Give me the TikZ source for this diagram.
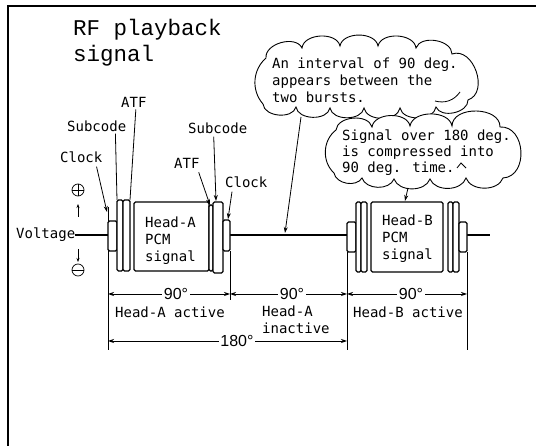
\documentclass[tikz,border=0pt]{standalone}
\usepackage{fontspec}
\setmainfont{DejaVu Sans Mono}
\newfontfamily\ttlfont{Liberation Mono}
\newfontfamily\degfont{Liberation Sans}
\usetikzlibrary{arrows.meta}
\tikzset{
  lab/.style={font=\fontsize{14}{17}\selectfont, inner sep=0pt},
  ttl/.style={font=\ttlfont\fontsize{22.5}{27}\selectfont, inner sep=0pt, anchor=base west},
  deg/.style={font=\degfont\fontsize{16}{18}\selectfont, inner sep=1.5pt, fill=white},
  pulse/.style={line width=1.1pt, rounded corners=1.5pt, fill=white},
  sig/.style={line width=1.1pt},
  lead/.style={line width=0.8pt},
  leadarr/.style={line width=0.8pt, -{Stealth[length=6pt,width=4pt]}},
  dimarr/.style={line width=0.8pt, {Stealth[length=6pt,width=4pt]}-{Stealth[length=6pt,width=4pt]}},
  ext/.style={line width=0.8pt},
  cloudline/.style={line width=0.9pt, fill=white},
  puff/.style={bend left=80},
  spuff/.style={bend left=70},
}
\begin{document}
\begin{tikzpicture}[x=1pt,y=-1pt]
\useasboundingbox (0,0) rectangle (536,446);
% frame
\draw[line width=1.2pt] (8,446) -- (8,6) -- (536,6);
% title
\node[ttl] (t1) at (73,36) {RF playback};
\node[ttl] (t2) at (73,62) {signal};

% ---------- signal baseline ----------
\coordinate (v0) at (75,235);
\coordinate (a0) at (108,235);
\coordinate (a1) at (230,235);
\coordinate (b0) at (347,235);
\coordinate (b1) at (467,235);
\coordinate (bend) at (490,235);
\draw[sig] (v0) -- (a0);
\draw[sig] (a1) -- (b0);
\draw[sig] (b1) -- (bend);

% extension lines
\draw[ext] (108,207) -- (108,350);
\draw[ext] (230,251) -- (230,300);
\draw[ext] (347,252) -- (347,350);
\draw[ext] (467,252) -- (467,350);

% Head-A burst
\draw[pulse] (108,221) rectangle (117,251);
\draw[pulse] (117,200) rectangle (123,271);
\draw[pulse] (123,200) rectangle (130,271);
\draw[pulse] (134,202) rectangle (209,271);
\draw[pulse] (209,205) rectangle (213,271);
\draw[pulse] (213,202) rectangle (223,273);
\draw[pulse] (223,220) rectangle (230,251);
\node[lab, anchor=north west, align=left] (pcmA) at (145,216.5) {Head-A\\PCM\\signal};

% Head-B burst
\draw[pulse] (347,222) rectangle (356,252);
\draw[pulse] (356,202) rectangle (361,272);
\draw[pulse] (361,202) rectangle (367,272);
\draw[pulse] (371,202) rectangle (443,272);
\draw[pulse] (448,202) rectangle (453,272);
\draw[pulse] (453,202) rectangle (459,272);
\draw[pulse] (459,222) rectangle (467,252);
\node[lab, anchor=north west, align=left] (pcmB) at (382,214.5) {Head-B\\PCM\\signal};

% voltage
\node[lab, anchor=west] (volt) at (16,235) {Voltage};
\node[circle, draw, line width=0.7pt, minimum size=12pt, inner sep=0pt] (plus) at (78,190) {};
\draw[line width=0.7pt] (plus.north) -- (plus.south) (plus.west) -- (plus.east);
\node[circle, draw, line width=0.7pt, minimum size=12pt, inner sep=0pt] (minus) at (78,270) {};
\draw[line width=0.7pt] (minus.west) -- (minus.east);
\coordinate (up0) at (78,217);
\coordinate (up1) at (78,204);
\coordinate (dn0) at (78,249);
\coordinate (dn1) at (78,262);
\draw[line width=0.6pt, -{Stealth[length=4pt,width=3pt]}] (up0) -- (up1);
\draw[line width=0.6pt, -{Stealth[length=4pt,width=3pt]}] (dn0) -- (dn1);

% component labels
\node[lab, anchor=west] (clkL) at (60,157) {Clock};
\node[lab, anchor=west] (subL) at (67,126) {Subcode};
\node[lab, anchor=west] (atfL) at (121,102) {ATF};
\node[lab, anchor=west] (subR) at (188,128) {Subcode};
\node[lab, anchor=west] (atfR) at (174,163) {ATF};
\node[lab, anchor=west] (clkR) at (225,182) {Clock};
\coordinate (pClkL) at (107,212);
\coordinate (pSubL) at (117,200);
\coordinate (pAtfL) at (130,200);
\coordinate (pSubR) at (216,201);
\coordinate (pAtfR) at (210,205);
\coordinate (pClkR) at (228,219);
\draw[leadarr] ([xshift=-6pt,yshift=-4pt]clkL.south east) -- (pClkL);
\draw[lead] ([xshift=-11pt,yshift=-2pt]subL.south east) -- (pSubL);
\draw[lead] ([xshift=2pt,yshift=-2pt]atfL.south) -- (pAtfL);
\draw[leadarr] ([xshift=-4pt,yshift=-3pt]subR.south) -- (pSubR);
\draw[leadarr] ([xshift=-1pt,yshift=-4pt]atfR.south east) -- (pAtfR);
\draw[leadarr] ([xshift=7pt,yshift=-4pt]clkR.south west) -- (pClkR);

% dimension lines
\coordinate (d0) at (108,294);
\coordinate (d1) at (230,294);
\coordinate (d2) at (347,294);
\coordinate (d3) at (467,294);
\coordinate (e0) at (108,341);
\coordinate (e1) at (347,341);
\draw[dimarr] (d0) -- (d1);
\draw[dimarr] (d1) -- (d2);
\draw[dimarr] (d2) -- (d3);
\draw[dimarr] (e0) -- (e1);
\node[deg] (g1) at (176,294) {90°};
\node[deg] (g2) at (292,294) {90°};
\node[deg] (g3) at (411,294) {90°};
\node[deg] (g4) at (237,341) {180°};
\node[lab, anchor=west] (actA) at (115,312) {Head-A active};
\node[lab, anchor=north west, align=left] (inA) at (262,305.5) {Head-A\\inactive};
\node[lab, anchor=west] (actB) at (353,312) {Head-B active};

% cloud 1
\draw[cloudline] (263,104) to[bend left=45] (266,58)
  to[puff] (302,48) to[puff] (340,46) to[puff] (378,46) to[puff] (416,48) to[puff] (452,54)
  to[bend left=90, looseness=1.2] (468,100)
  to[puff] (436,107) to[puff] (400,108) to[puff] (364,108) to[puff] (330,108) to[puff] (296,107) to[puff] cycle;
\draw[line width=0.8pt] (435,101) to[bend right=35] (460,92);
\node[lab, anchor=north west, align=left] (c1) at (272,57.5) {An interval of 90 deg.\\appears between the\\two bursts.};
\coordinate (c1tail) at (301,117);
\coordinate (c1tip) at (285,233);
\draw[leadarr] (c1tail) -- (c1tip);

% cloud 2
\draw[cloudline] (334,173) to[bend left=50] (336,130)
  to[puff] (372,127) to[puff] (410,126) to[puff] (452,126)
  to[bend left=90, looseness=1.1] (500,127)
  to[bend left=90, looseness=1.3] (503,178)
  to[spuff] (466,178) to[spuff] (430,179) to[spuff] (394,179) to[spuff] (362,178) to[spuff] cycle;
\draw[line width=0.8pt] (457,168) -- (461,163) -- (466,168);
\node[lab, anchor=north west, align=left, font=\fontsize{14}{16}\selectfont] (c2) at (342,129.5) {Signal over 180 deg.\\is compressed into\\90 deg. time.};
\coordinate (c2tail) at (408,188);
\coordinate (c2tip) at (405,201);
\draw[leadarr] (c2tail) -- (c2tip);
\end{tikzpicture}
\end{document}
